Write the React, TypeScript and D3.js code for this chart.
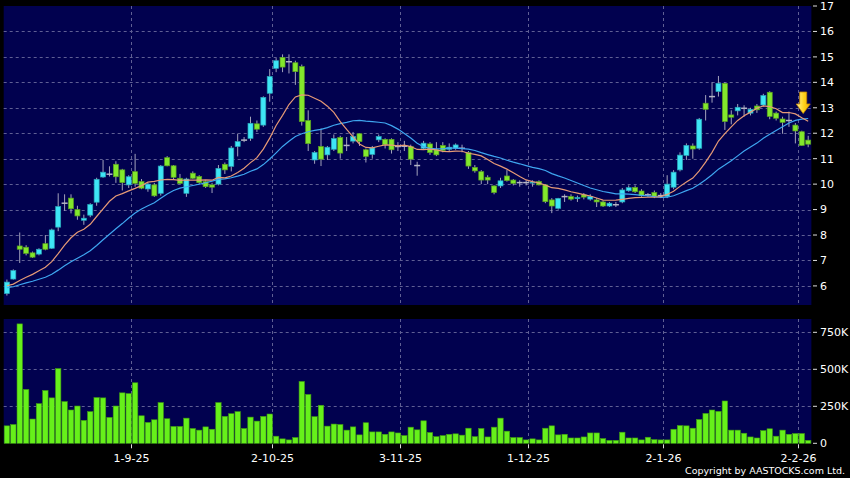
import { useEffect, useRef } from 'react'
import * as d3 from 'd3'

// daily sessions 4-8-25 .. 3-2-26 (index based)
const opens = [
  5.70, 6.27, 7.57, 7.52, 7.30, 7.25, 7.66, 7.48, 8.31, 9.25,
  9.45, 9.00, 8.58, 8.78, 9.29, 10.28, 10.39, 10.78, 10.56, 9.97,
  10.49, 10.10, 9.81, 9.97, 9.64, 11.04, 10.72, 10.23, 9.64, 10.43,
  10.30, 10.10, 9.97, 10.00, 10.78, 10.70, 11.48, 11.73, 11.80, 12.37,
  12.32, 13.57, 14.55, 14.98, 14.81, 14.77, 14.62, 12.50, 10.95, 11.48,
  11.15, 11.37, 11.83, 11.52, 11.69, 11.98, 11.35, 11.17, 11.74, 11.76,
  11.76, 11.48, 11.49, 11.48, 10.73, 11.41, 11.58, 11.35, 11.52, 11.37,
  11.41, 11.41, 11.24, 10.66, 10.49, 10.27, 9.93, 9.93, 10.32, 10.16,
  10.06, 10.06, 10.05, 10.10, 9.97, 9.38, 9.05, 9.51, 9.51, 9.44,
  9.58, 9.41, 9.38, 9.30, 9.14, 9.19, 9.30, 9.74, 9.87, 9.73,
  9.58, 9.67, 9.55, 9.51, 9.88, 10.56, 11.13, 11.50, 11.41, 13.18,
  13.44, 13.64, 13.96, 12.72, 12.88, 12.98, 12.79, 13.07, 13.11, 13.61,
  12.79, 12.56, 12.50, 12.32, 12.06, 11.73,
]
const highs = [
  6.25, 6.65, 8.10, 7.60, 7.35, 7.48, 8.00, 8.25, 9.64, 9.60,
  9.60, 9.15, 8.80, 9.25, 10.25, 10.95, 10.70, 10.90, 10.60, 10.35,
  11.19, 10.20, 10.05, 10.05, 10.75, 11.10, 10.75, 10.40, 10.25, 10.50,
  10.35, 10.15, 10.05, 10.75, 10.85, 11.50, 11.98, 11.85, 12.65, 12.50,
  13.45, 14.52, 14.95, 15.10, 15.10, 14.85, 14.70, 12.90, 11.30, 12.19,
  11.50, 11.95, 11.90, 11.85, 12.05, 12.00, 11.40, 11.50, 11.95, 11.80,
  11.80, 11.65, 11.70, 11.55, 10.88, 11.70, 11.65, 11.65, 11.65, 11.60,
  11.60, 11.55, 11.30, 10.75, 10.55, 10.35, 9.95, 10.25, 10.55, 10.20,
  10.15, 10.15, 10.15, 10.15, 10.00, 9.45, 9.46, 9.60, 9.60, 9.55,
  9.65, 9.60, 9.45, 9.35, 9.30, 9.30, 9.85, 9.95, 9.95, 9.80,
  9.65, 9.75, 9.65, 10.35, 10.55, 11.25, 11.60, 11.60, 12.60, 13.50,
  14.00, 14.25, 14.00, 12.90, 13.15, 13.10, 13.00, 13.15, 13.55, 13.65,
  12.85, 12.65, 12.85, 12.40, 12.10, 11.90,
]
const lows = [
  5.62, 6.25, 6.90, 7.20, 7.10, 7.20, 7.40, 7.45, 8.15, 8.95,
  8.85, 8.60, 8.40, 8.70, 9.15, 10.25, 10.30, 10.05, 9.75, 9.85,
  9.90, 9.80, 9.70, 9.50, 9.55, 10.70, 10.20, 10.00, 9.50, 10.20,
  10.00, 9.85, 9.65, 9.95, 10.40, 10.50, 11.09, 11.65, 11.70, 12.05,
  12.25, 13.24, 14.40, 14.40, 14.35, 13.90, 12.30, 11.30, 10.80, 10.71,
  10.95, 11.30, 11.00, 11.30, 11.60, 11.50, 10.85, 11.00, 11.65, 11.40,
  11.20, 11.30, 11.30, 10.75, 10.33, 11.35, 11.15, 11.10, 11.25, 11.30,
  11.35, 11.25, 10.60, 10.45, 10.00, 10.00, 9.60, 9.85, 10.10, 9.95,
  9.90, 9.95, 9.90, 9.95, 9.25, 8.86, 9.00, 9.30, 9.35, 9.30,
  9.40, 9.35, 9.10, 9.10, 9.10, 9.10, 9.25, 9.70, 9.65, 9.50,
  9.50, 9.45, 9.45, 9.45, 9.80, 10.50, 10.95, 11.00, 11.35, 12.50,
  13.20, 13.44, 12.13, 12.35, 12.70, 12.65, 12.70, 12.80, 13.05, 12.55,
  12.50, 11.98, 12.25, 11.60, 11.50, 11.45,
]
const closes = [
  6.15, 6.60, 7.44, 7.28, 7.13, 7.44, 7.44, 8.20, 9.12, 9.25,
  9.03, 8.75, 8.66, 9.20, 10.19, 10.47, 10.39, 10.29, 10.06, 10.29,
  10.03, 9.84, 10.00, 9.54, 10.71, 10.72, 10.27, 10.03, 10.20, 10.23,
  10.06, 9.90, 9.88, 10.62, 10.56, 11.42, 11.67, 11.73, 12.39, 12.16,
  13.41, 14.23, 14.85, 14.60, 14.81, 14.42, 12.46, 11.59, 11.24, 10.98,
  11.45, 11.79, 11.22, 11.52, 11.87, 11.67, 11.09, 11.42, 11.87, 11.55,
  11.35, 11.48, 11.49, 10.98, 10.73, 11.61, 11.24, 11.15, 11.32, 11.45,
  11.54, 11.41, 10.71, 10.52, 10.16, 10.16, 9.67, 10.13, 10.14, 10.03,
  10.06, 10.06, 10.08, 9.97, 9.31, 9.14, 9.44, 9.51, 9.41, 9.47,
  9.49, 9.51, 9.30, 9.14, 9.25, 9.19, 9.77, 9.86, 9.70, 9.54,
  9.58, 9.51, 9.55, 10.00, 10.47, 11.14, 11.52, 11.38, 12.55, 12.94,
  13.44, 13.96, 12.46, 12.63, 13.02, 12.98, 12.94, 12.92, 13.48, 12.66,
  12.59, 12.43, 12.50, 12.09, 11.52, 11.57,
]
// volume in thousands of shares
const volumes = [
  118, 127, 807, 364, 164, 268, 357, 307, 505, 282,
  225, 252, 155, 214, 309, 307, 175, 252, 341, 336,
  409, 186, 141, 159, 275, 166, 114, 114, 170, 100,
  89, 111, 95, 275, 182, 200, 214, 100, 177, 150,
  182, 198, 48, 30, 23, 39, 418, 330, 180, 257,
  116, 130, 127, 89, 111, 57, 139, 77, 77, 61,
  77, 70, 52, 109, 91, 152, 73, 45, 52, 61,
  64, 55, 102, 45, 100, 43, 109, 170, 82, 39,
  39, 23, 30, 23, 102, 118, 57, 61, 36, 36,
  43, 70, 70, 32, 20, 20, 75, 36, 36, 23,
  41, 25, 23, 23, 95, 120, 118, 102, 161, 202,
  225, 216, 286, 89, 89, 68, 43, 36, 86, 98,
  48, 89, 61, 66, 66, 20,
]
// closes before the first visible session (only feed the moving averages)
const priorCloses = [5.80, 5.85, 5.90, 5.82, 5.88, 5.85, 5.80, 5.90, 5.86, 5.84,
  5.95, 6.00, 6.05, 5.98, 6.02, 6.05, 6.00, 5.96, 5.90]

const dateLabels = ['1-9-25', '2-10-25', '3-11-25', '1-12-25', '2-1-26', '2-2-26']
const dateIndex = [20, 42, 62, 82, 103, 124]
const priceTicks = [6, 7, 8, 9, 10, 11, 12, 13, 14, 15, 16, 17]
const volTicks = [0, 250, 500, 750]

const W = 850
const H = 478
const FONT = '"DejaVu Sans", Verdana, sans-serif'

export default function App() {
  const ref = useRef<SVGSVGElement>(null)

  useEffect(() => {
    document.body.style.margin = '0'
    document.body.style.background = '#000'
    if (!ref.current) return
    const svg = d3.select(ref.current)
    svg.selectAll('*').remove()

    const left = 3.7, right = 811.4
    const mainTop = 6, mainBottom = 305
    const volTop = 319, volBottom = 443.3

    const n = closes.length
    const x = d3.scaleBand<number>().domain(d3.range(n)).range([left, right]).paddingInner(0).paddingOuter(0)
    const cx = (i: number) => (x(i) as number) + x.bandwidth() / 2
    const y = d3.scaleLinear().domain([5.25, 17]).range([mainBottom, mainTop])
    const yv = d3.scaleLinear().domain([0, 840]).range([volBottom, volTop])

    svg.append('rect').attr('width', W).attr('height', H).attr('fill', '#000')

    // panels
    svg.append('rect').attr('x', left).attr('y', mainTop).attr('width', right - left).attr('height', mainBottom - mainTop).attr('fill', '#01014f')
    svg.append('rect').attr('x', left).attr('y', volTop).attr('width', right - left).attr('height', volBottom - volTop).attr('fill', '#01014f')

    const grid = svg.append('g').attr('stroke', '#5f5f94').attr('stroke-width', 1).attr('stroke-dasharray', '3,3')
    priceTicks.filter(t => t < 17).forEach(t => {
      const yy = Math.round(y(t)) + 0.5
      grid.append('line').attr('x1', left).attr('x2', right).attr('y1', yy).attr('y2', yy)
    })
    volTicks.filter(t => t > 0).forEach(t => {
      const yy = Math.round(yv(t)) + 0.5
      grid.append('line').attr('x1', left).attr('x2', right).attr('y1', yy).attr('y2', yy)
    })
    dateIndex.forEach(i => {
      const xx = Math.round(x(i) as number) - 0.5
      grid.append('line').attr('x1', xx).attr('x2', xx).attr('y1', mainTop).attr('y2', mainBottom)
      grid.append('line').attr('x1', xx).attr('x2', xx).attr('y1', volTop).attr('y2', volBottom)
    })

    // volume bars
    const bw = x.bandwidth() - 1
    svg.append('g').selectAll('rect').data(volumes).enter().append('rect')
      .attr('x', (_, i) => (x(i) as number) + 0.5)
      .attr('y', d => yv(d))
      .attr('width', bw)
      .attr('height', d => volBottom - yv(d))
      .attr('fill', '#66f01a')
      .attr('stroke', '#3f9a12')
      .attr('stroke-width', 0.6)

    // candles
    const g = svg.append('g')
    const bodyW = 5
    closes.forEach((c, i) => {
      const o = opens[i]
      const xc = cx(i)
      const up = c > o
      const flat = c === o
      g.append('line')
        .attr('x1', xc).attr('x2', xc)
        .attr('y1', y(highs[i])).attr('y2', y(lows[i]))
        .attr('stroke', '#a3a3bb').attr('stroke-width', 1)
      if (flat) {
        g.append('line')
          .attr('x1', xc - bodyW / 2 - 0.5).attr('x2', xc + bodyW / 2 + 0.5)
          .attr('y1', y(c)).attr('y2', y(c))
          .attr('stroke', '#b5b5c5').attr('stroke-width', 1.5)
      } else {
        const top = y(Math.max(o, c)), bot = y(Math.min(o, c))
        g.append('rect')
          .attr('x', xc - bodyW / 2).attr('y', top)
          .attr('width', bodyW).attr('height', Math.max(1, bot - top))
          .attr('fill', up ? '#3ee6f6' : '#82e82c')
          .attr('stroke', up ? '#2aa6b8' : '#5aa020')
          .attr('stroke-width', 0.7)
      }
    })

    // moving averages
    const all = [...priorCloses, ...closes]
    const sma = (len: number) => closes.map((_, i) => d3.mean(all.slice(i + priorCloses.length - len + 1, i + priorCloses.length + 1)) as number)
    const line = d3.line<number>().x((_, i) => cx(i)).y(d => y(d)).curve(d3.curveLinear)
    svg.append('path').attr('d', line(sma(20))).attr('fill', 'none').attr('stroke', '#3fa6f0').attr('stroke-width', 1.2)
    svg.append('path').attr('d', line(sma(10))).attr('fill', 'none').attr('stroke', '#e69a76').attr('stroke-width', 1.2)

    // arrow marker
    const defs = svg.append('defs')
    const grad = defs.append('linearGradient').attr('id', 'arrowGrad').attr('x1', 0).attr('x2', 1).attr('y1', 0).attr('y2', 0)
    grad.append('stop').attr('offset', '0%').attr('stop-color', '#fff3a0')
    grad.append('stop').attr('offset', '55%').attr('stop-color', '#ffd21a')
    grad.append('stop').attr('offset', '100%').attr('stop-color', '#f0a800')
    const ax = cx(n - 1) - 5
    svg.append('path')
      .attr('d', `M${ax - 3.5},92 L${ax + 3.5},92 L${ax + 3.5},104 L${ax + 7},104 L${ax},113.5 L${ax - 7},104 L${ax - 3.5},104 Z`)
      .attr('fill', 'url(#arrowGrad)')
      .attr('stroke', '#c98a00')
      .attr('stroke-width', 0.8)

    // right axis
    const axisG = svg.append('g').attr('font-family', FONT).attr('font-size', 11).attr('fill', '#fff')
    priceTicks.forEach(t => {
      const yy = y(t)
      axisG.append('line').attr('x1', 813).attr('x2', 817).attr('y1', yy).attr('y2', yy).attr('stroke', '#ddd')
      axisG.append('text').attr('x', 820).attr('y', yy).attr('dy', '0.35em').text(String(t))
    })
    volTicks.forEach(t => {
      const yy = yv(t)
      axisG.append('line').attr('x1', 813).attr('x2', 817).attr('y1', yy).attr('y2', yy).attr('stroke', '#ddd')
      axisG.append('text').attr('x', 820).attr('y', yy).attr('dy', '0.35em').text(t === 0 ? '0' : `${t}K`)
    })
    dateIndex.forEach((idx, k) => {
      const xx = Math.round(x(idx) as number) - 0.5
      axisG.append('line').attr('x1', xx).attr('x2', xx).attr('y1', volBottom + 1).attr('y2', volBottom + 5).attr('stroke', '#ddd')
      axisG.append('text').attr('x', xx).attr('y', 462).attr('text-anchor', 'middle').text(dateLabels[k])
    })

    svg.append('text')
      .attr('x', 845).attr('y', 474)
      .attr('text-anchor', 'end')
      .attr('font-family', FONT).attr('font-size', 9.5).attr('fill', '#fff')
      .text('Copyright by AASTOCKS.com Ltd.')
  }, [])

  return <svg ref={ref} width={W} height={H} style={{ display: 'block' }} />
}
